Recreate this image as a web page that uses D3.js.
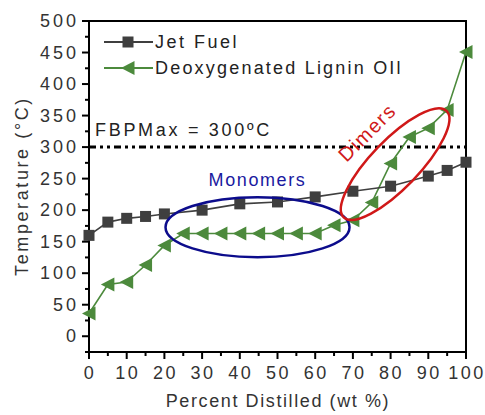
<!DOCTYPE html>
<html>
<head>
<meta charset="utf-8">
<script src="https://cdn.jsdelivr.net/npm/d3@7"></script>
<style>
  body { margin: 0; background: #fff; }
  text { font-family: Arial, "Liberation Sans", sans-serif; }
</style>
</head>
<body>
<div id="chart"></div>
<script>
// data
var jetX = [0, 5, 10, 15, 20, 30, 40, 50, 60, 70, 80, 90, 95, 100];
var jetT = [160, 181, 187, 190, 194, 200, 210, 213, 221, 230, 238, 254, 263, 276];
var ligninX = [0, 5, 10, 15, 20, 25, 30, 35, 40, 45, 50, 55, 60, 65, 70, 75, 80, 85, 90, 95, 100];
var ligninT = [36, 82, 86, 113, 144, 163, 163, 163, 163, 163, 163, 163, 163, 176, 184, 212, 274, 316, 330, 359, 451];
var xTicks = [0, 10, 20, 30, 40, 50, 60, 70, 80, 90, 100];
var yTicks = [0, 50, 100, 150, 200, 250, 300, 350, 400, 450, 500];
var seriesNames = ["Jet Fuel", "Deoxygenated Lignin OIl"];
var fbpMax = 300;

var W = 485, H = 415;
var svg = d3.select("#chart").append("svg")
    .attr("width", W)
    .attr("height", H);

var x = d3.scaleLinear().domain([0, 100]).range([89, 466]);
var y = d3.scaleLinear().domain([-25, 500]).range([352, 21]);

var jetColor = "#3f3f3f",
    greenColor = "#4c8a3c";

// frame
svg.append("rect")
    .attr("x", x(0)).attr("y", y(500))
    .attr("width", x(100) - x(0)).attr("height", y(-25) - y(500))
    .attr("fill", "none").attr("stroke", "#000").attr("stroke-width", 2);

// y ticks
var yMinor = d3.range(-25, 500, 25).filter(function(d){ return d % 50 != 0; });
svg.selectAll(".ymaj").data(yTicks).enter().append("line")
    .attr("x1", x(0) - 7).attr("x2", x(0))
    .attr("y1", function(d){ return y(d); }).attr("y2", function(d){ return y(d); })
    .attr("stroke", "#000").attr("stroke-width", 2);
svg.selectAll(".ymin").data(yMinor).enter().append("line")
    .attr("x1", x(0) - 4).attr("x2", x(0))
    .attr("y1", function(d){ return y(d); }).attr("y2", function(d){ return y(d); })
    .attr("stroke", "#000").attr("stroke-width", 2);
svg.selectAll(".ylab").data(yTicks).enter().append("text")
    .attr("x", x(0) - 10)
    .attr("y", function(d){ return y(d) + 6; })
    .attr("text-anchor", "end")
    .attr("font-size", 18).attr("letter-spacing", 3)
    .attr("fill", "#333")
    .text(function(d){ return d; });

// x ticks
var xMinor = d3.range(5, 100, 10);
svg.selectAll(".xmaj").data(xTicks).enter().append("line")
    .attr("x1", function(d){ return x(d); }).attr("x2", function(d){ return x(d); })
    .attr("y1", y(-25)).attr("y2", y(-25) + 7)
    .attr("stroke", "#000").attr("stroke-width", 2);
svg.selectAll(".xmin").data(xMinor).enter().append("line")
    .attr("x1", function(d){ return x(d); }).attr("x2", function(d){ return x(d); })
    .attr("y1", y(-25)).attr("y2", y(-25) + 4)
    .attr("stroke", "#000").attr("stroke-width", 2);
svg.selectAll(".xlab").data(xTicks).enter().append("text")
    .attr("x", function(d){ return x(d) + 1; })
    .attr("y", 379)
    .attr("text-anchor", "middle")
    .attr("font-size", 18).attr("letter-spacing", 2.5)
    .attr("fill", "#333")
    .text(function(d){ return d; });

// axis titles
svg.append("text")
    .attr("x", 278).attr("y", 407)
    .attr("text-anchor", "middle")
    .attr("font-size", 18).attr("letter-spacing", 1.6)
    .attr("fill", "#333")
    .text("Percent Distilled (wt %)");
svg.append("text")
    .attr("transform", "translate(28,186) rotate(-90)")
    .attr("text-anchor", "middle")
    .attr("font-size", 18).attr("letter-spacing", 2.6)
    .attr("fill", "#333")
    .text("Temperature (°C)");

// FBP max line
svg.append("line")
    .attr("x1", x(0)).attr("x2", x(100))
    .attr("y1", y(fbpMax)).attr("y2", y(fbpMax))
    .attr("stroke", "#000").attr("stroke-width", 3)
    .attr("stroke-dasharray", "7,4,3,4,3,4");
svg.append("text")
    .attr("x", 95).attr("y", y(fbpMax) - 11)
    .attr("font-size", 18).attr("letter-spacing", 2.7)
    .attr("fill", "#222")
    .text("FBPMax = 300ºC");

// series
var jet = jetX.map(function(d, i){ return [d, jetT[i]]; });
var lignin = ligninX.map(function(d, i){ return [d, ligninT[i]]; });
var line = d3.line()
    .x(function(d){ return x(d[0]); })
    .y(function(d){ return y(d[1]); });

var triPath = "M-7,0L6.5,-7L6.5,7Z";

svg.append("path").datum(lignin)
    .attr("d", line).attr("fill", "none")
    .attr("stroke", greenColor).attr("stroke-width", 1.6);
svg.selectAll(".tri").data(lignin).enter().append("path")
    .attr("d", triPath)
    .attr("transform", function(d){ return "translate(" + x(d[0]) + "," + y(d[1]) + ")"; })
    .attr("fill", greenColor);

svg.append("path").datum(jet)
    .attr("d", line).attr("fill", "none")
    .attr("stroke", jetColor).attr("stroke-width", 1.6);
svg.selectAll(".sq").data(jet).enter().append("rect")
    .attr("x", function(d){ return x(d[0]) - 5.5; })
    .attr("y", function(d){ return y(d[1]) - 5.5; })
    .attr("width", 11).attr("height", 11)
    .attr("fill", jetColor);

// annotations
svg.append("ellipse")
    .attr("cx", x(44.7)).attr("cy", y(173))
    .attr("rx", 92).attr("ry", 30)
    .attr("fill", "none").attr("stroke", "#0c0c8c").attr("stroke-width", 2.5);
svg.append("text")
    .attr("x", x(44.7)).attr("y", 186)
    .attr("text-anchor", "middle")
    .attr("font-size", 18).attr("letter-spacing", 1.6)
    .attr("fill", "#1a1aa0")
    .text("Monomers");

svg.append("ellipse")
    .attr("transform", "translate(" + x(81.2) + "," + y(273) + ") rotate(-46)")
    .attr("rx", 74).attr("ry", 24)
    .attr("fill", "none").attr("stroke", "#d01818").attr("stroke-width", 2.5);
svg.append("text")
    .attr("transform", "translate(" + x(73.8) + "," + y(323) + ") rotate(-45)")
    .attr("text-anchor", "middle").attr("dy", 7)
    .attr("font-size", 20).attr("letter-spacing", 1.5)
    .attr("fill", "#d01818")
    .text("Dimers");

// legend
var legend = svg.append("g");
[jetColor, greenColor].forEach(function(c, i) {
    var ly = 42 + i * 26;
    legend.append("line")
        .attr("x1", 104).attr("x2", 153)
        .attr("y1", ly).attr("y2", ly)
        .attr("stroke", c).attr("stroke-width", 2);
    if (i == 0) {
        legend.append("rect")
            .attr("x", 122.5).attr("y", ly - 5.5)
            .attr("width", 11).attr("height", 11)
            .attr("fill", c);
    } else {
        legend.append("path")
            .attr("d", triPath)
            .attr("transform", "translate(128," + ly + ")")
            .attr("fill", c);
    }
    legend.append("text")
        .attr("x", 155).attr("y", ly + 6)
        .attr("font-size", 18).attr("letter-spacing", i == 0 ? 2.5 : 2.2)
        .attr("fill", "#222")
        .text(seriesNames[i]);
});
</script>
</body>
</html>
